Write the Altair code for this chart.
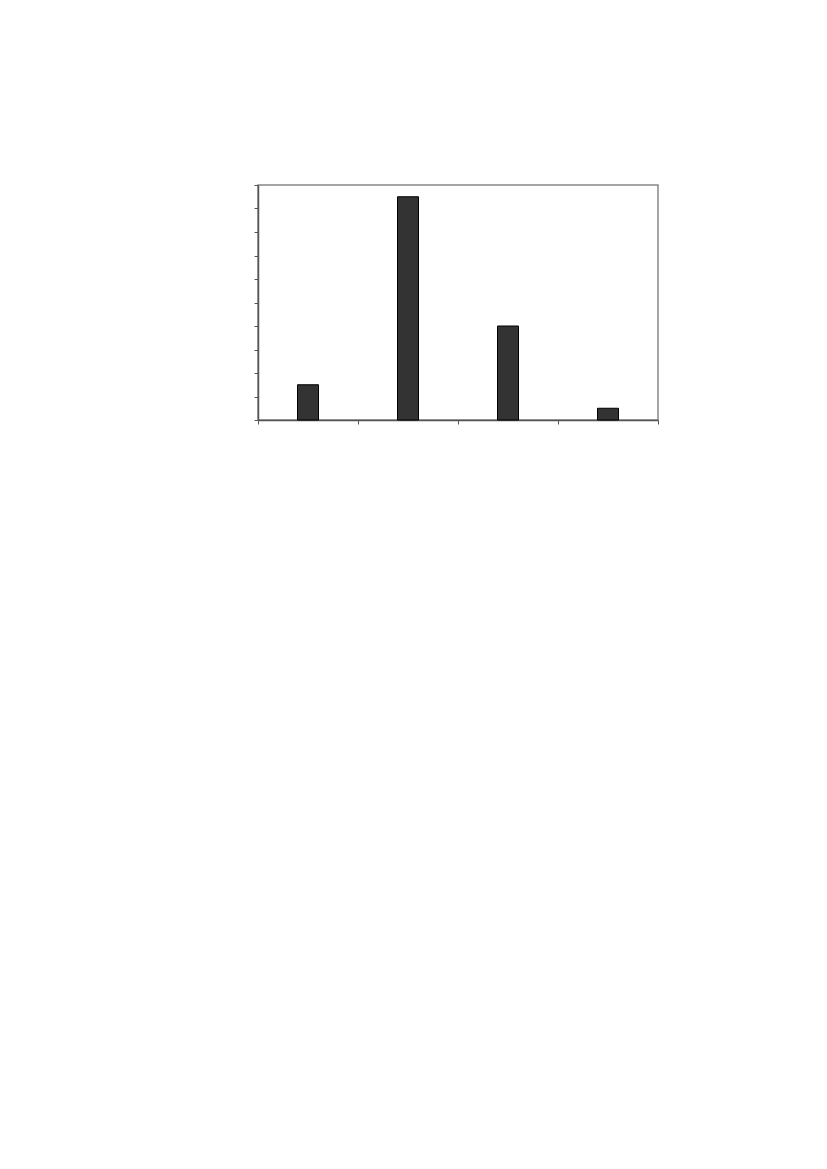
import altair as alt
import pandas as pd

categories = ["A", "B", "C", "D"]
values = [1.5, 9.5, 4.0, 0.5]

df = pd.DataFrame({"cat": categories, "val": values})

bars = alt.Chart(df).mark_bar(color="#333333", stroke="#000000", strokeWidth=1,
                              width=alt.RelativeBandSize(0.21)).encode(
    x=alt.X("cat:N", sort=categories,
            scale=alt.Scale(paddingInner=0, paddingOuter=0),
            axis=alt.Axis(labels=False, title=None, tickBand="extent", tickSize=4,
                          domainColor="#555555", tickColor="#555555", domainWidth=1.5)),
    y=alt.Y("val:Q", scale=alt.Scale(domain=[0, 10], nice=False),
            axis=alt.Axis(labels=False, title=None, values=list(range(0, 11)), tickSize=4,
                          domainColor="#555555", tickColor="#555555", domainWidth=1.5, grid=False)),
)

chart = bars.properties(
    width=400, height=235,
    padding={"left": 250, "top": 177, "right": 10, "bottom": 10},
    autosize=alt.AutoSizeParams(type="none"),
).configure_view(stroke="#888888", strokeWidth=1.5).configure_axis(grid=False)

chart.save("out.html", embed_options={"renderer": "svg", "actions": False})
